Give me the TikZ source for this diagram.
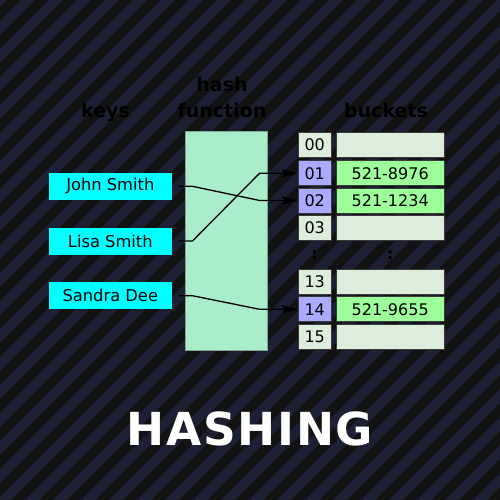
\documentclass[tikz,border=0pt]{standalone}
\usepackage{fontspec}
\setmainfont{DejaVu Sans}
\usetikzlibrary{arrows.meta}
\definecolor{bgdark}{HTML}{121212}
\definecolor{bgnavy}{HTML}{1D1F33}
\definecolor{keycyan}{HTML}{00FFFF}
\definecolor{hashfill}{HTML}{A9EDCB}
\definecolor{hashedge}{HTML}{7FA893}
\definecolor{cellfill}{HTML}{DDEEDD}
\definecolor{idxhi}{HTML}{AAAAFF}
\definecolor{valhi}{HTML}{9CFF99}
\definecolor{celledge}{HTML}{3A3A3A}
\tikzset{
  keybox/.style={fill=keycyan, minimum width=122.7pt, minimum height=27pt, inner sep=0pt,
    font=\fontsize{16.3}{19}\selectfont},
  idxbox/.style={fill=cellfill, draw=celledge, line width=0.8pt, minimum width=32.7pt,
    minimum height=25pt, inner sep=0pt, font=\fontsize{16}{19}\selectfont},
  valbox/.style={fill=cellfill, draw=celledge, line width=0.8pt, minimum width=108.3pt,
    minimum height=25pt, inner sep=0pt, font=\fontsize{16}{19}\selectfont},
  hi/.style={fill=idxhi},
  vhi/.style={fill=valhi},
  header/.style={font=\fontsize{19}{25.6}\selectfont\bfseries, text=black, anchor=base, align=center, inner sep=0pt},
  link/.style={draw=black, line width=1.3pt, shorten <=6.6pt, -{Stealth[length=16pt,width=8pt,inset=2.5pt]}},
  dotsym/.style={font=\fontsize{16}{19}\selectfont\bfseries, text=black, inner sep=0pt}
}
\begin{document}
\begin{tikzpicture}[x=1pt,y=-1pt]
\useasboundingbox (0,0) rectangle (500,500);
\fill[bgdark] (0,0) rectangle (500,500);
\begin{scope}
\clip (0,0) rectangle (500,500);
\foreach \c in {0,28,...,1036} \draw[bgnavy, line width=9.9pt] (\c+20,-20) -- ++(-560,560);
\end{scope}

% headers
\node[header] (hkeys) at (105.5,117.3) {keys};
\node[header] (hhash) at (222,117.3) {hash\\function};
\node[header] (hbuck) at (386,117.3) {buckets};

% hash function box
\node[fill=hashfill, draw=hashedge, line width=0.8pt, minimum width=82.3pt, minimum height=219pt,
  inner sep=0pt] (hf) at (226.2,240.5) {};

% keys
\node[keybox] (jk) at (110.3,186.3) {John Smith};
\node[keybox] (lk) at (110.3,241) {Lisa Smith};
\node[keybox] (sk) at (110.3,295.7) {Sandra Dee};

% buckets
\node[idxbox] (i00) at (314.7,145) {00};
\node[idxbox, hi] (i01) at (314.7,173.2) {01};
\node[idxbox, hi] (i02) at (314.7,200.5) {02};
\node[idxbox] (i03) at (314.7,227.6) {03};
\node[idxbox] (i13) at (314.7,281.7) {13};
\node[idxbox, hi] (i14) at (314.7,309.3) {14};
\node[idxbox] (i15) at (314.7,336.5) {15};

\node[valbox] (v00) at (390.2,145) {};
\node[valbox, vhi] (v01) at (390.2,173.2) {521-8976};
\node[valbox, vhi] (v02) at (390.2,200.5) {521-1234};
\node[valbox] (v03) at (390.2,227.6) {};
\node[valbox] (v13) at (390.2,281.7) {};
\node[valbox, vhi] (v14) at (390.2,309.3) {521-9655};
\node[valbox] (v15) at (390.2,336.5) {};

\node[dotsym] (d1) at (314.5,255) {:};
\node[dotsym] (d2) at (390,255) {:};

% links
\draw[link] (jk.east) -- ++(20.6,0) -- ([xshift=-38.3pt]i02.west) -- (i02.west);
\draw[link] (lk.east) -- ++(20.6,0) -- ([xshift=-38.3pt]i01.west) -- (i01.west);
\draw[link] (sk.east) -- ++(20.6,0) -- ([xshift=-38.3pt]i14.west) -- (i14.west);

% title
\node[font=\addfontfeature{LetterSpace=3.7}\fontsize{45.5}{50}\selectfont\bfseries, text=white,
  anchor=base, inner sep=0pt] (title) at (250,445) {HASHING};
\end{tikzpicture}
\end{document}
